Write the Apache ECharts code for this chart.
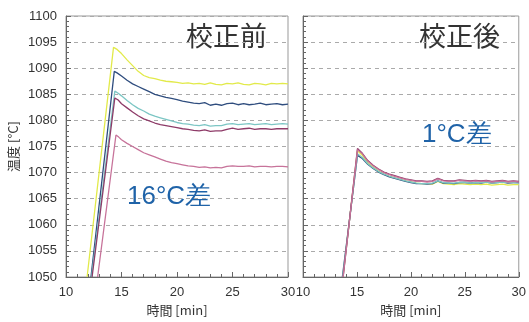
<!DOCTYPE html>
<html><head><meta charset="utf-8">
<script src="https://cdn.jsdelivr.net/npm/echarts@6/dist/echarts.min.js"></script>
<style>html,body{margin:0;padding:0;background:#fff}#c{width:529px;height:322px}</style>
</head><body><div id="c"></div>
<script>
// x: time [min], y: temperature [°C]
const leftYellow = [[11.9,1050],[14.28,1094],[14.6,1093.6],[15,1092.8],[15.5,1091.6],[16,1090.5],[16.5,1089.4],[17,1088.6],[17.5,1088.2],[18,1088],[18.5,1087.7],[19,1087.5],[19.5,1087.4],[20,1087.3],[20.5,1087.1],[21,1087.2],[21.5,1087],[22,1087.1],[22.5,1086.9],[23,1087.2],[23.5,1086.9],[24,1086.8],[24.5,1087.1],[25,1087],[25.5,1087.2],[26,1086.9],[26.5,1086.8],[27,1087.1],[27.5,1087],[28,1086.8],[28.5,1087.1],[29,1087],[29.5,1087.1],[30,1087]];
const leftBlue = [[12.25,1050],[14.35,1089.4],[14.6,1089.1],[15,1088.5],[15.5,1087.7],[16,1087],[16.5,1086.5],[17,1086],[17.5,1085.5],[18,1085],[18.5,1084.7],[19,1084.4],[19.5,1084.2],[20,1084],[20.5,1083.7],[21,1083.5],[21.5,1083.3],[22,1083.2],[22.5,1083.4],[23,1082.9],[23.5,1083.1],[24,1082.9],[24.5,1083.2],[25,1083.3],[25.5,1083],[26,1083.2],[26.5,1083],[27,1083.1],[27.5,1083.3],[28,1083],[28.5,1083.1],[29,1083.2],[29.5,1083],[30,1083.1]];
const leftTeal = [[12.3,1050],[14.4,1085.6],[14.7,1085.2],[15,1084.7],[15.5,1083.8],[16,1083],[16.5,1082.3],[17,1081.8],[17.5,1081.2],[18,1080.8],[18.5,1080.5],[19,1080.2],[19.5,1079.9],[20,1079.6],[20.5,1079.4],[21,1079.3],[21.5,1079.1],[22,1079],[22.5,1079.2],[23,1078.9],[23.5,1079],[24,1079],[24.5,1079.3],[25,1079.4],[25.5,1079.2],[26,1079.3],[26.5,1079.4],[27,1079.2],[27.5,1079.3],[28,1079.4],[28.5,1079.2],[29,1079.3],[29.5,1079.4],[30,1079.3]];
const leftMaroon = [[12.35,1050],[14.4,1084.3],[14.7,1083.9],[15,1083.2],[15.5,1082.4],[16,1081.6],[16.5,1080.9],[17,1080.3],[17.5,1079.9],[18,1079.5],[18.5,1079.2],[19,1079],[19.5,1078.8],[20,1078.6],[20.5,1078.4],[21,1078.3],[21.5,1078.1],[22,1078],[22.5,1078.2],[23,1077.9],[23.5,1078],[24,1078],[24.5,1078.3],[25,1078.5],[25.5,1078.3],[26,1078.4],[26.5,1078.5],[27,1078.3],[27.5,1078.4],[28,1078.4],[28.5,1078.3],[29,1078.4],[29.5,1078.4],[30,1078.4]];
const leftPink = [[12.85,1050],[14.5,1077.2],[14.75,1076.8],[15,1076.3],[15.5,1075.6],[16,1075],[16.5,1074.4],[17,1073.8],[17.5,1073.4],[18,1073],[18.5,1072.6],[19,1072.2],[19.5,1071.9],[20,1071.7],[20.5,1071.5],[21,1071.3],[21.5,1071.2],[22,1071],[22.5,1071.1],[23,1070.9],[23.5,1071],[24,1070.9],[24.5,1071.2],[25,1071.3],[25.5,1071.2],[26,1071.2],[26.5,1071.3],[27,1071.1],[27.5,1071.2],[28,1071.2],[28.5,1071.1],[29,1071.2],[29.5,1071.2],[30,1071.1]];

const rightYellow = [[13.7,1050],[15.05,1074.2],[15.5,1073.3],[16,1071.9],[16.5,1071],[17,1070.3],[17.5,1069.7],[18,1069.3],[18.5,1069],[19,1068.7],[19.5,1068.4],[20,1068.2],[20.5,1068],[21,1067.9],[21.5,1067.9],[22,1067.8],[22.5,1068.3],[23,1067.9],[23.5,1067.8],[24,1067.7],[24.5,1067.9],[25,1067.8],[25.5,1067.7],[26,1067.8],[26.5,1067.7],[27,1067.8],[27.5,1067.6],[28,1067.7],[28.5,1067.8],[29,1067.6],[29.5,1067.7],[30,1067.7]];
const rightBlue = [[13.65,1050],[15.05,1073.3],[15.5,1072.7],[16,1071.6],[16.5,1070.8],[17,1070.1],[17.5,1069.6],[18,1069.2],[18.5,1068.9],[19,1068.6],[19.5,1068.3],[20,1068.1],[20.5,1067.9],[21,1067.9],[21.5,1067.8],[22,1067.9],[22.5,1068.4],[23,1068],[23.5,1068],[24,1067.9],[24.5,1068.1],[25,1068.1],[25.5,1068],[26,1068.1],[26.5,1068],[27,1068.2],[27.5,1068],[28,1068.1],[28.5,1068.2],[29,1068],[29.5,1068.1],[30,1068.1]];
const rightTeal = [[13.68,1050],[15.05,1073.6],[15.5,1072.9],[16,1071.7],[16.5,1070.9],[17,1070.2],[17.5,1069.7],[18,1069.3],[18.5,1069],[19,1068.7],[19.5,1068.4],[20,1068.2],[20.5,1068],[21,1067.9],[21.5,1067.9],[22,1068],[22.5,1068.4],[23,1068.1],[23.5,1068],[24,1068],[24.5,1068.1],[25,1068.2],[25.5,1068],[26,1068.1],[26.5,1068.1],[27,1068.2],[27.5,1068],[28,1068.1],[28.5,1068.2],[29,1068.1],[29.5,1068.1],[30,1068]];
const rightMaroon = [[13.72,1050],[15.05,1074.6],[15.5,1073.7],[16,1072.3],[16.5,1071.4],[17,1070.7],[17.5,1070.1],[18,1069.7],[18.5,1069.4],[19,1069.1],[19.5,1068.8],[20,1068.6],[20.5,1068.4],[21,1068.4],[21.5,1068.3],[22,1068.4],[22.5,1068.9],[23,1068.5],[23.5,1068.4],[24,1068.4],[24.5,1068.6],[25,1068.5],[25.5,1068.4],[26,1068.5],[26.5,1068.4],[27,1068.5],[27.5,1068.3],[28,1068.4],[28.5,1068.5],[29,1068.3],[29.5,1068.4],[30,1068.3]];
const rightPink = [[13.72,1050],[15.05,1074.4],[15.5,1073.6],[16,1072.2],[16.5,1071.3],[17,1070.6],[17.5,1070],[18,1069.6],[18.5,1069.3],[19,1069],[19.5,1068.7],[20,1068.5],[20.5,1068.3],[21,1068.3],[21.5,1068.2],[22,1068.3],[22.5,1068.8],[23,1068.4],[23.5,1068.3],[24,1068.3],[24.5,1068.5],[25,1068.4],[25.5,1068.3],[26,1068.4],[26.5,1068.3],[27,1068.4],[27.5,1068.2],[28,1068.3],[28.5,1068.4],[29,1068.2],[29.5,1068.3],[30,1068.2]];

const seriesColors = ['#e2ea4a', '#2f4d7e', '#7cc6c4', '#8e3b68', '#c7739a'];
const leftSeries = [leftYellow, leftBlue, leftTeal, leftMaroon, leftPink];
const rightSeries = [rightYellow, rightBlue, rightTeal, rightMaroon, rightPink];
const xMin = 10, xMax = 30, xStep = 5;
const yMin = 1050, yMax = 1100, yStep = 5;
const titleLeft = '校正前', titleRight = '校正後';
const noteLeft = '16°C差', noteRight = '1°C差';
const yName = '温度 [°C]', xName = '時間 [min]';

const chart = echarts.init(document.getElementById('c'), null, {renderer: 'canvas'});
const labelFont = 'Liberation Sans';
const jpFont = 'Noto Sans CJK JP';
function xAxis(gi) {
  return {
    type: 'value', gridIndex: gi, min: xMin, max: xMax, interval: xStep,
    name: xName, nameLocation: 'middle', nameGap: 25,
    nameTextStyle: {fontFamily: jpFont, fontSize: 13, color: '#333'},
    axisLine: {show: true, lineStyle: {color: '#666', width: 1}},
    axisTick: {show: true, inside: true, length: 5, lineStyle: {color: '#666'}},
    minorTick: {show: true, splitNumber: 5, length: 3, lineStyle: {color: '#666'}},
    axisLabel: {fontFamily: labelFont, fontSize: 13, color: '#333', margin: 9, showMaxLabel: true, showMinLabel: true, formatter: v => String(v)},
    splitLine: {show: false}
  };
}
function yAxis(gi, showLabels) {
  return {
    type: 'value', gridIndex: gi, min: yMin, max: yMax, interval: yStep,
    name: showLabels ? yName : '', nameLocation: 'middle', nameGap: 46,
    nameTextStyle: {fontFamily: jpFont, fontSize: 13, color: '#333'},
    axisLine: {show: true, lineStyle: {color: '#666', width: 1}},
    axisTick: {show: true, inside: true, length: 5, lineStyle: {color: '#666'}},
    minorTick: {show: true, splitNumber: 5, length: 3, lineStyle: {color: '#666'}},
    axisLabel: {show: showLabels, fontFamily: labelFont, fontSize: 13, color: '#333', margin: 9, formatter: v => String(v)},
    splitLine: {show: true, lineStyle: {color: '#aaa', type: [4, 4], width: 1}}
  };
}
const series = [];
leftSeries.forEach((d, i) => series.push({type: 'line', xAxisIndex: 0, yAxisIndex: 0, data: d, showSymbol: false, symbol: 'none', lineStyle: {color: seriesColors[i], width: 1.3}, z: 3}));
rightSeries.forEach((d, i) => series.push({type: 'line', xAxisIndex: 1, yAxisIndex: 1, data: d, showSymbol: false, symbol: 'none', lineStyle: {color: seriesColors[i], width: 1.3}, z: 3 + i}));

chart.setOption({
  animation: false,
  backgroundColor: '#fff',
  grid: [
    {left: 66, top: 16, width: 222, height: 261, show: true, borderColor: '#999', borderWidth: 1},
    {left: 303, top: 16, width: 220, height: 261, show: true, borderColor: '#999', borderWidth: 1}
  ],
  xAxis: [xAxis(0), xAxis(1)],
  yAxis: [yAxis(0, true), yAxis(1, false)],
  series: series,
  graphic: [
    {type: 'text', left: 186, top: 22, style: {text: titleLeft, fontFamily: jpFont, fontSize: 27, fill: '#333'}},
    {type: 'text', left: 419, top: 22, style: {text: titleRight, fontFamily: jpFont, fontSize: 27, fill: '#333'}},
    {type: 'text', left: 127, top: 184, style: {text: noteLeft, fontFamily: labelFont, fontSize: 26, fill: '#1f63a8'}},
    {type: 'text', left: 422, top: 122, style: {text: noteRight, fontFamily: labelFont, fontSize: 26, fill: '#1f63a8'}}
  ]
});
</script>
</body></html>
